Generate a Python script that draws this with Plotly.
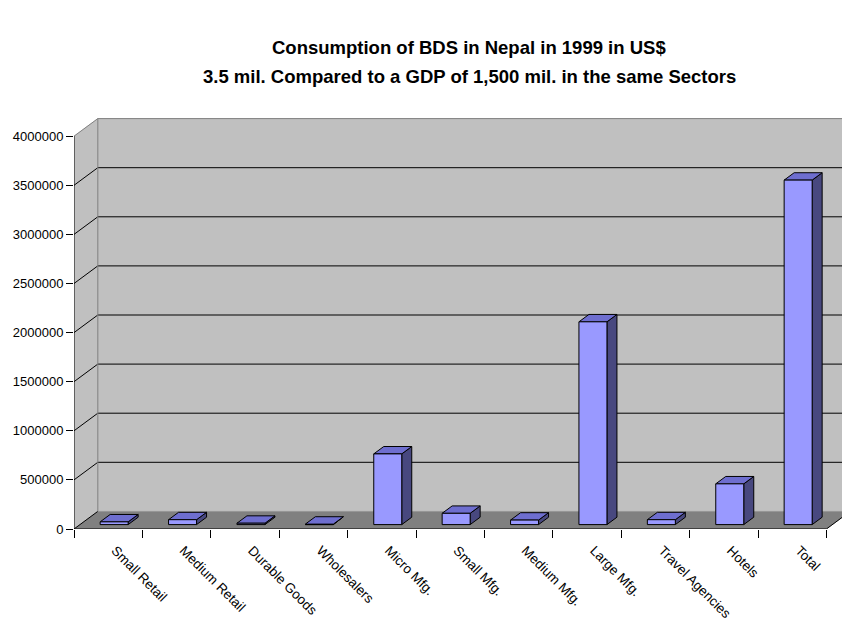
import plotly.graph_objects as go

# ---- data -------------------------------------------------------------
categories = ["Small Retail", "Medium Retail", "Durable Goods", "Wholesalers",
              "Micro Mfg.", "Small Mfg.", "Medium Mfg.", "Large Mfg.",
              "Travel Agencies", "Hotels", "Total"]
consumption_usd = [28000, 50000, 14000, 5000, 720000, 115000, 46000,
                   2065000, 50000, 415000, 3508000]
y_ticks = [0, 500000, 1000000, 1500000, 2000000, 2500000, 3000000,
           3500000, 4000000]
title_lines = ["Consumption of BDS in Nepal in 1999 in US$",
               "3.5 mil. Compared to a GDP of 1,500 mil. in the same Sectors"]

# ---- layout geometry ---------------------------------------------------
W, H = 842, 623
M_L, M_R, M_T, M_B = 74, 0, 105, 94
plot_w = W - M_L - M_R
plot_h = H - M_T - M_B
PX_PER_CAT = 68.4
PX_PER_UNIT = 392.8 / 4000000.0
x_max = plot_w / PX_PER_CAT
y_max = plot_h / PX_PER_UNIT

# oblique depth of the 3-D box, in pixels, converted to axis units
DX = 23.8 / PX_PER_CAT
DY = 17.6 / PX_PER_UNIT
n = len(categories)
top_val = y_ticks[-1]

BAR_W = 28.0 / PX_PER_CAT
D0, D1 = 0.25, 0.67  # front / back depth of the columns

FRONT = "#9999FF"
TOP = "#6E6ECF"
SIDE = "#48487F"
WALL = "#C0C0C0"
FLOOR = "#808080"
FONT = "Liberation Sans, Arial, sans-serif"


def P(x, y, d):
    return x + d * DX, y + d * DY


def poly_trace(polys, fill, line_color="black", line_width=1):
    xs, ys = [], []
    for pts in polys:
        for (px, py) in pts + [pts[0]]:
            xs.append(px)
            ys.append(py)
        xs.append(None)
        ys.append(None)
    return go.Scatter(x=xs, y=ys, mode="lines", fill="toself", fillcolor=fill,
                      line=dict(color=line_color, width=line_width),
                      hoverinfo="skip", showlegend=False)


def line_trace(segs, color, width=1):
    xs, ys = [], []
    for (a, b) in segs:
        xs += [a[0], b[0], None]
        ys += [a[1], b[1], None]
    return go.Scatter(x=xs, y=ys, mode="lines",
                      line=dict(color=color, width=width),
                      hoverinfo="skip", showlegend=False)


fig = go.Figure()

# walls and floor
back_wall = [P(0, 0, 1), P(n, 0, 1), P(n, top_val, 1), P(0, top_val, 1)]
side_wall = [P(0, 0, 0), P(0, 0, 1), P(0, top_val, 1), P(0, top_val, 0)]
floor = [P(0, 0, 0), P(n, 0, 0), P(n, 0, 1), P(0, 0, 1)]
fig.add_trace(poly_trace([back_wall], WALL, WALL, 0.5))
fig.add_trace(poly_trace([side_wall], WALL, WALL, 0.5))
fig.add_trace(poly_trace([floor], FLOOR, FLOOR, 0.5))

# gridlines across the side wall and back wall
grid_segs = []
for v in y_ticks[:-1]:
    grid_segs.append((P(0, v, 0), P(0, v, 1)))
    if v > 0:
        grid_segs.append((P(0, v, 1), P(n, v, 1)))
fig.add_trace(line_trace(grid_segs, "black"))

# wall border (top edges and back-left edge)
border = [(P(0, top_val, 0), P(0, top_val, 1)),
          (P(0, top_val, 1), P(n, top_val, 1)),
          (P(0, 0, 1), P(0, top_val, 1))]
fig.add_trace(line_trace(border, FLOOR))

# floor front/right edges and value axis line
edges = [(P(0, 0, 0), P(n, 0, 0)), (P(n, 0, 0), P(n, 0, 1)),
         (P(0, 0, 0), P(0, top_val, 0))]
fig.add_trace(line_trace(edges, "black"))

# columns
fronts, sides, tops = [], [], []
for i, v in enumerate(consumption_usd):
    xl = i + 0.5 - BAR_W / 2
    xr = i + 0.5 + BAR_W / 2
    fronts.append([P(xl, 0, D0), P(xr, 0, D0), P(xr, v, D0), P(xl, v, D0)])
    sides.append([P(xr, 0, D0), P(xr, 0, D1), P(xr, v, D1), P(xr, v, D0)])
    tops.append([P(xl, v, D0), P(xr, v, D0), P(xr, v, D1), P(xl, v, D1)])
fig.add_trace(poly_trace(sides, SIDE))
fig.add_trace(poly_trace(tops, TOP))
fig.add_trace(poly_trace(fronts, FRONT))

# titles
title_y_px = [48, 77]
for txt, ypx in zip(title_lines, title_y_px):
    fig.add_annotation(text="<b>%s</b>" % txt, xref="paper", yref="paper",
                       x=(469 - M_L) / plot_w, y=(H - M_B - ypx) / plot_h,
                       xanchor="center", yanchor="middle", showarrow=False,
                       font=dict(family=FONT, size=18.5, color="black"))

fig.update_layout(
    width=W, height=H,
    margin=dict(l=M_L, r=M_R, t=M_T, b=M_B, pad=0, autoexpand=False),
    paper_bgcolor="white", plot_bgcolor="white",
    showlegend=False,
    xaxis=dict(range=[0, x_max], showgrid=False, zeroline=False,
               showline=False, tickmode="array", automargin=False,
               tickvals=[i + 0.5 for i in range(n)], ticktext=categories,
               tickangle=45, ticks="",
               tickfont=dict(family=FONT, size=13.5, color="black"),
               ticklabelstandoff=10, ticklabelshift=7,
               minor=dict(tickmode="array", tickvals=list(range(n + 1)),
                          ticks="outside", ticklen=8, tickcolor="black",
                          tickwidth=1),
               fixedrange=True),
    yaxis=dict(range=[0, y_max], showgrid=False, zeroline=False,
               showline=False, tickmode="array", tickvals=y_ticks,
               automargin=False,
               ticktext=[str(v) for v in y_ticks],
               ticks="outside", ticklen=7, tickcolor="black", tickwidth=1,
               tickfont=dict(family=FONT, size=13, color="black"),
               fixedrange=True),
)

fig.write_html("out.html")
